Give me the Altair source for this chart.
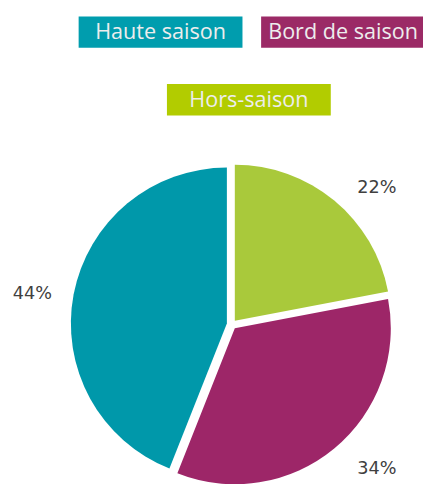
import altair as alt
import pandas as pd

# ---- data ----
CATEGORIES = ["Hors-saison", "Bord de saison", "Haute saison"]   # pie order, clockwise from 12 o'clock
SHARES = [22, 34, 44]
PIE_COLORS = ["#A9C93B", "#9D2668", "#0098AA"]

LEGEND_ITEMS = ["Haute saison", "Bord de saison", "Hors-saison"]
LEGEND_COLORS = ["#009DAE", "#9B2A66", "#B2CC00"]

# ---- layout (chart pixels) ----
W, H = 423, 476
CX, CY, R, EXPLODE = 228, 318, 159, 5
LABEL_RX, LABEL_RY, LABEL_DX, LABEL_OY = 160, 186, 46, 4
LEG_X = [72, 258, 162]
LEG_Y = [4, 4, 73]
LEG_W, LEG_H = 167, 32

pie_df = pd.DataFrame({
    "category": CATEGORIES,
    "share": SHARES,
    "order": list(range(len(CATEGORIES))),
})

base = alt.Chart(pie_df).transform_window(
    cum="sum(share)", sort=[alt.SortField("order")], frame=[None, 0]
).transform_joinaggregate(
    total="sum(share)"
).transform_calculate(
    t0="2*PI*(datum.cum-datum.share)/datum.total",
    t1="2*PI*datum.cum/datum.total",
).transform_calculate(
    mid="(datum.t0+datum.t1)/2",
).transform_calculate(
    px=f"{CX}+{EXPLODE}*sin(datum.mid)",
    py=f"{CY}-{EXPLODE}*cos(datum.mid)",
    lx=f"{CX}+{LABEL_RX}*sin(datum.mid)+(sin(datum.mid)>0?{LABEL_DX}:-{LABEL_DX})",
    ly=f"{CY}+{LABEL_OY}-{LABEL_RY}*cos(datum.mid)",
    label="datum.share + '%'",
)

arcs = base.mark_arc(radius=R).encode(
    theta=alt.Theta("t0:Q", scale=None, stack=False),
    theta2="t1:Q",
    x=alt.X("px:Q", scale=None),
    y=alt.Y("py:Q", scale=None),
    color=alt.Color("category:N", scale=alt.Scale(domain=CATEGORIES, range=PIE_COLORS), legend=None),
)

labels = base.mark_text(font="DejaVu Sans", fontSize=18, color="#404040", baseline="middle", align="center").encode(
    x=alt.X("lx:Q", scale=None),
    y=alt.Y("ly:Q", scale=None),
    text="label:N",
)

leg_df = pd.DataFrame({
    "item": LEGEND_ITEMS,
    "color": LEGEND_COLORS,
    "x0": LEG_X,
    "y0": LEG_Y,
})
leg_df["x1"] = leg_df["x0"] + LEG_W
leg_df["y1"] = leg_df["y0"] + LEG_H
leg_df["xc"] = leg_df["x0"] + LEG_W / 2
leg_df["yc"] = leg_df["y0"] + LEG_H / 2

leg_rect = alt.Chart(leg_df).mark_rect().encode(
    x=alt.X("x0:Q", scale=None), x2="x1:Q",
    y=alt.Y("y0:Q", scale=None), y2="y1:Q",
    color=alt.Color("color:N", scale=None),
)
leg_text = alt.Chart(leg_df).mark_text(font="Open Sans", fontSize=22, color="#EDEDED", baseline="middle", align="center").encode(
    x=alt.X("xc:Q", scale=None),
    y=alt.Y("yc:Q", scale=None),
    text="item:N",
)

chart = alt.layer(arcs, labels, leg_rect, leg_text).properties(
    width=W, height=H, padding=0, autosize="none"
).configure_view(stroke=None)

chart.save("out.html", embed_options={"renderer": "svg", "actions": False})
